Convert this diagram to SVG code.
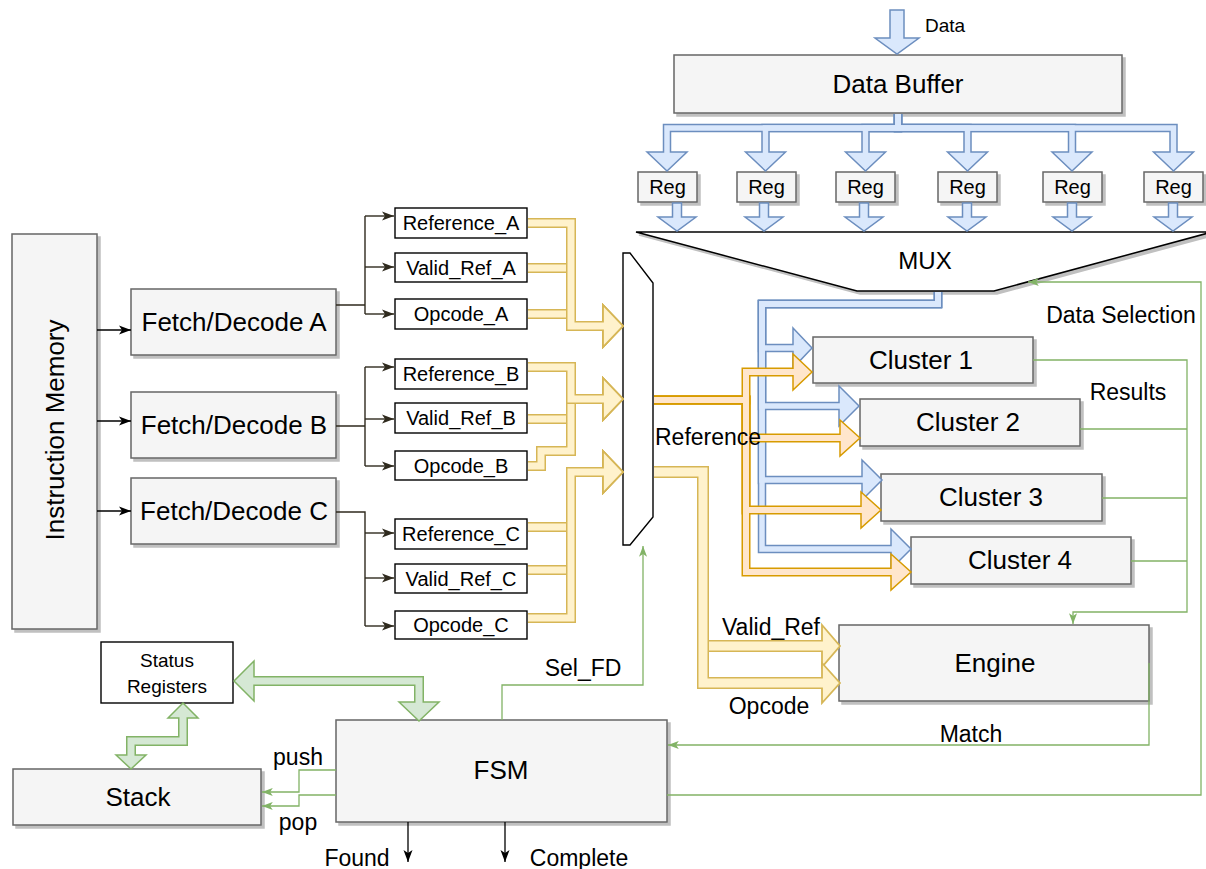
<svg xmlns="http://www.w3.org/2000/svg" width="1206" height="869" viewBox="0 0 1206 869">
<defs>
<style>
text{font-family:"Liberation Sans",Arial,Helvetica,sans-serif;fill:#000;dominant-baseline:central;text-anchor:middle}
.n{font-size:26px}
.s{font-size:20px}
.l{font-size:23px}
.box{fill:#f5f5f5;stroke:#666;stroke-width:1.5}
.wbox{fill:#fff;stroke:#000;stroke-width:1.4}
.ln{fill:none;stroke:#000;stroke-width:1.3}
.dk{fill:none;stroke:#2f2a1e;stroke-width:1.4}
.gl{fill:none;stroke:#82b366;stroke-width:1.3}
.bo{fill:none;stroke:#6c8ebf;stroke-width:8.5;stroke-linejoin:miter}
.bi{fill:none;stroke:#dae8fc;stroke-width:5.5;stroke-linejoin:miter}
.bh{fill:#dae8fc;stroke:#6c8ebf;stroke-width:1.5;stroke-linejoin:miter}
.yo{fill:none;stroke:#d6b656;stroke-width:10;stroke-linejoin:miter}
.yi{fill:none;stroke:#fff2cc;stroke-width:7;stroke-linejoin:miter}
.yh{fill:#fff2cc;stroke:#d6b656;stroke-width:1.8;stroke-linejoin:miter}
.oo{fill:none;stroke:#d79b00;stroke-width:9;stroke-linejoin:miter}
.oi{fill:none;stroke:#ffe6cc;stroke-width:6;stroke-linejoin:miter}
.oh{fill:#ffe6cc;stroke:#d79b00;stroke-width:1.5;stroke-linejoin:miter}
.go{fill:none;stroke:#82b366;stroke-width:10;stroke-linejoin:miter}
.gi{fill:none;stroke:#d5e8d4;stroke-width:7;stroke-linejoin:miter}
.gh{fill:#d5e8d4;stroke:#82b366;stroke-width:1.5;stroke-linejoin:miter}
.wide{stroke-width:12}
.wide-in{stroke-width:9}
</style>
<filter id="ds" x="-10%" y="-10%" width="130%" height="140%">
<feGaussianBlur in="SourceAlpha" stdDeviation="0.6" result="b"/>
<feOffset in="b" dx="3" dy="3" result="o"/>
<feComponentTransfer in="o" result="s"><feFuncA type="linear" slope="0.25"/></feComponentTransfer>
<feMerge><feMergeNode in="s"/><feMergeNode in="SourceGraphic"/></feMerge>
</filter>
<marker id="mk" viewBox="0 0 12 10" refX="12" refY="5" markerWidth="12" markerHeight="10" markerUnits="userSpaceOnUse" orient="auto"><path d="M0,0.5 L12,5 L0,9.5 L3,5 Z" fill="#000"/></marker>
<marker id="mkd" viewBox="0 0 12 10" refX="12" refY="5" markerWidth="12" markerHeight="10" markerUnits="userSpaceOnUse" orient="auto"><path d="M0,0.5 L12,5 L0,9.5 L3,5 Z" fill="#2f2a1e"/></marker>
<marker id="mkg" viewBox="0 0 12 10" refX="12" refY="5" markerWidth="11" markerHeight="9" markerUnits="userSpaceOnUse" orient="auto"><path d="M0,0.5 L12,5 L0,9.5 L3,5 Z" fill="#82b366"/></marker>
<!-- repeated arrow shapes -->
<polygon id="dh" points="-20,152 0,171 20,152"/>
<polygon id="ra" points="-4.5,203 4.5,203 4.5,217 19,217 0,231 -19,217 -4.5,217"/>
<!-- data buffer fan-out -->
<path id="d1" d="M898,114 V128 H667 V154"/>
<path id="d2" d="M898,114 V128 H765.5 V154"/>
<path id="d3" d="M898,114 V128 H865.5 V154"/>
<path id="d4" d="M898,114 V128 H967.5 V154"/>
<path id="d5" d="M898,114 V128 H1072 V154"/>
<path id="d6" d="M898,114 V128 H1173.5 V154"/>
<!-- fetch/decode outputs to selector -->
<path id="yA1" d="M528,314 H571 V326 H605"/>
<path id="yA2" d="M528,268 H571 V326 H605"/>
<path id="yA3" d="M528,223 H571 V326 H605"/>
<path id="yB1" d="M528,419 H571 V399 H605"/>
<path id="yB2" d="M528,466 H541 V451 H571 V399 H605"/>
<path id="yB3" d="M528,367 H571 V399 H605"/>
<path id="yC1" d="M528,527 H571 V472 H605"/>
<path id="yC2" d="M528,570 H571 V472 H605"/>
<path id="yC3" d="M528,618 H571 V472 H605"/>
<!-- selector outputs to engine -->
<path id="yE1" d="M654,472 H703 V646 H824"/>
<path id="yE2" d="M654,472 H703 V683 H824"/>
<!-- data mux to clusters -->
<path id="bc1" d="M938,292 V304 H762 V348 H795"/>
<path id="bc2" d="M938,292 V304 H762 V406 H841"/>
<path id="bc3" d="M938,292 V304 H762 V480 H864"/>
<path id="bc4" d="M938,292 V304 H762 V549 H893"/>
<!-- reference to clusters -->
<path id="oc1" d="M654,400 H746 V372 H795"/>
<path id="oc2" d="M654,400 H746 V438 H842"/>
<path id="oc3" d="M654,400 H746 V510 H863"/>
<path id="oc4" d="M654,400 H746 V572 H893"/>
<!-- status register links -->
<path id="g1" d="M252,681 H419 V704"/>
<path id="g2" d="M183,716 V741 H131 V757"/>
</defs>

<rect width="1206" height="869" fill="#fff"/>

<!-- ===== nodes ===== -->
<g id="instruction-memory">
<rect class="box" x="12" y="234" width="85" height="395" filter="url(#ds)"/>
<text class="n" transform="translate(55,430) rotate(-90)">Instruction Memory</text>
</g>
<g id="fd-a"><rect class="box" x="131" y="289" width="205" height="66" filter="url(#ds)"/><text class="n" x="234" y="322">Fetch/Decode A</text></g>
<g id="fd-b"><rect class="box" x="131" y="392" width="205" height="66" filter="url(#ds)"/><text class="n" x="234" y="425">Fetch/Decode B</text></g>
<g id="fd-c"><rect class="box" x="131" y="478" width="205" height="66" filter="url(#ds)"/><text class="n" x="234" y="511">Fetch/Decode C</text></g>

<g id="ref-a"><rect class="wbox" x="395" y="208" width="132" height="30"/><text class="s" x="461" y="223">Reference_A</text></g>
<g id="valid-a"><rect class="wbox" x="395" y="253" width="132" height="29"/><text class="s" x="461" y="267.5">Valid_Ref_A</text></g>
<g id="opcode-a"><rect class="wbox" x="395" y="299" width="132" height="30"/><text class="s" x="461" y="314">Opcode_A</text></g>
<g id="ref-b"><rect class="wbox" x="395" y="359" width="132" height="30"/><text class="s" x="461" y="374">Reference_B</text></g>
<g id="valid-b"><rect class="wbox" x="395" y="403" width="132" height="30"/><text class="s" x="461" y="418">Valid_Ref_B</text></g>
<g id="opcode-b"><rect class="wbox" x="395" y="451" width="132" height="29"/><text class="s" x="461" y="465.5">Opcode_B</text></g>
<g id="ref-c"><rect class="wbox" x="395" y="519" width="132" height="30"/><text class="s" x="461" y="534">Reference_C</text></g>
<g id="valid-c"><rect class="wbox" x="395" y="564" width="132" height="29"/><text class="s" x="461" y="578.5">Valid_Ref_C</text></g>
<g id="opcode-c"><rect class="wbox" x="395" y="611" width="132" height="28"/><text class="s" x="461" y="625">Opcode_C</text></g>

<g id="fd-select"><polygon points="623,253 630,253 653,283 653,517 630,545 623,545" fill="#fff" stroke="#000" stroke-width="1.4"/></g>

<g id="data-buffer"><rect class="box" x="674" y="55" width="448" height="58" filter="url(#ds)"/><text class="n" x="898" y="84">Data Buffer</text></g>

<g id="regs">
<g id="reg-1"><rect class="box" x="638" y="172" width="59" height="30" filter="url(#ds)"/><text class="s" x="667.5" y="187">Reg</text></g>
<g id="reg-2"><rect class="box" x="737" y="172" width="59" height="30" filter="url(#ds)"/><text class="s" x="766.5" y="187">Reg</text></g>
<g id="reg-3"><rect class="box" x="836" y="172" width="59" height="30" filter="url(#ds)"/><text class="s" x="865.5" y="187">Reg</text></g>
<g id="reg-4"><rect class="box" x="938" y="172" width="59" height="30" filter="url(#ds)"/><text class="s" x="967.5" y="187">Reg</text></g>
<g id="reg-5"><rect class="box" x="1043" y="172" width="59" height="30" filter="url(#ds)"/><text class="s" x="1072.5" y="187">Reg</text></g>
<g id="reg-6"><rect class="box" x="1144" y="172" width="59" height="30" filter="url(#ds)"/><text class="s" x="1173.5" y="187">Reg</text></g>
</g>

<g id="data-mux"><polygon points="636,232 1212,232 994,291 857,291" fill="#fff" stroke="#000" stroke-width="1.5" filter="url(#ds)"/><text x="925" y="260" style="font-size:24px">MUX</text></g>

<g id="cluster-1"><rect class="box" x="813" y="337" width="220" height="46" filter="url(#ds)"/><text class="n" x="921" y="360">Cluster 1</text></g>
<g id="cluster-2"><rect class="box" x="860" y="399" width="220" height="47" filter="url(#ds)"/><text class="n" x="968" y="422">Cluster 2</text></g>
<g id="cluster-3"><rect class="box" x="881" y="474" width="221" height="47" filter="url(#ds)"/><text class="n" x="991" y="497">Cluster 3</text></g>
<g id="cluster-4"><rect class="box" x="911" y="537" width="220" height="47" filter="url(#ds)"/><text class="n" x="1020" y="560">Cluster 4</text></g>

<g id="engine"><rect class="box" x="839" y="625" width="310" height="76" filter="url(#ds)"/><text class="n" x="995" y="663">Engine</text></g>

<g id="status-registers"><rect class="wbox" x="101" y="642" width="132" height="61"/><text x="167" y="660" style="font-size:19px">Status</text><text x="167" y="686" style="font-size:19px">Registers</text></g>
<g id="stack"><rect class="box" x="13" y="769" width="248" height="56" filter="url(#ds)"/><text class="n" x="138" y="797">Stack</text></g>
<g id="fsm"><rect class="box" x="336" y="720" width="331" height="102" filter="url(#ds)"/><text class="n" x="501" y="770">FSM</text></g>

<!-- ===== connectors ===== -->
<g id="connectors">
<!-- instruction memory to fetch/decode units -->
<path class="ln" d="M97,330 H131" marker-end="url(#mk)"/>
<path class="ln" d="M97,421 H131" marker-end="url(#mk)"/>
<path class="ln" d="M97,511 H131" marker-end="url(#mk)"/>

<!-- fetch/decode fan-out -->
<path class="dk" d="M336,305 H365 M365,216 V314"/>
<path class="dk" d="M365,216 H394" marker-end="url(#mkd)"/>
<path class="dk" d="M365,267 H394" marker-end="url(#mkd)"/>
<path class="dk" d="M365,314 H394" marker-end="url(#mkd)"/>
<path class="dk" d="M336,426 H365 M365,367 V466"/>
<path class="dk" d="M365,367 H394" marker-end="url(#mkd)"/>
<path class="dk" d="M365,419 H394" marker-end="url(#mkd)"/>
<path class="dk" d="M365,466 H394" marker-end="url(#mkd)"/>
<path class="dk" d="M336,512 H365 V626"/>
<path class="dk" d="M365,533 H394" marker-end="url(#mkd)"/>
<path class="dk" d="M365,578 H394" marker-end="url(#mkd)"/>
<path class="dk" d="M365,626 H394" marker-end="url(#mkd)"/>

<!-- field buses into the selector -->
<use href="#yA1" class="yo"/><polygon class="yh" points="603,305 623,326 603,347"/><use href="#yA1" class="yi"/>
<use href="#yA2" class="yo"/><polygon class="yh" points="603,305 623,326 603,347"/><use href="#yA2" class="yi"/>
<use href="#yA3" class="yo"/><polygon class="yh" points="603,305 623,326 603,347"/><use href="#yA3" class="yi"/>
<use href="#yB1" class="yo"/><polygon class="yh" points="603,378 623,399 603,420"/><use href="#yB1" class="yi"/>
<use href="#yB2" class="yo"/><polygon class="yh" points="603,378 623,399 603,420"/><use href="#yB2" class="yi"/>
<use href="#yB3" class="yo"/><polygon class="yh" points="603,378 623,399 603,420"/><use href="#yB3" class="yi"/>
<use href="#yC1" class="yo"/><polygon class="yh" points="603,451 623,472 603,493"/><use href="#yC1" class="yi"/>
<use href="#yC2" class="yo"/><polygon class="yh" points="603,451 623,472 603,493"/><use href="#yC2" class="yi"/>
<use href="#yC3" class="yo"/><polygon class="yh" points="603,451 623,472 603,493"/><use href="#yC3" class="yi"/>

<!-- selector to engine -->
<use href="#yE1" class="yo wide"/><polygon class="yh" points="822,625 840,646 822,667"/><use href="#yE1" class="yi wide-in"/>
<use href="#yE2" class="yo wide"/><polygon class="yh" points="822,663 840,683 822,703"/><use href="#yE2" class="yi wide-in"/>

<!-- data input -->
<polygon class="bh" points="890,10 904,10 904,38 919,38 897,54 875,38 890,38"/>

<!-- data buffer to registers -->
<use href="#d1" class="bo"/><use href="#d2" class="bo"/><use href="#d3" class="bo"/><use href="#d4" class="bo"/><use href="#d5" class="bo"/><use href="#d6" class="bo"/>
<use href="#dh" x="667" class="bh"/><use href="#dh" x="765.5" class="bh"/><use href="#dh" x="865.5" class="bh"/><use href="#dh" x="967.5" class="bh"/><use href="#dh" x="1072" class="bh"/><use href="#dh" x="1173.5" class="bh"/>
<use href="#d1" class="bi"/><use href="#d2" class="bi"/><use href="#d3" class="bi"/><use href="#d4" class="bi"/><use href="#d5" class="bi"/><use href="#d6" class="bi"/>

<!-- registers to data mux -->
<use href="#ra" x="677" class="bh"/><use href="#ra" x="764" class="bh"/><use href="#ra" x="864" class="bh"/><use href="#ra" x="967" class="bh"/><use href="#ra" x="1072" class="bh"/><use href="#ra" x="1173" class="bh"/>

<!-- data mux to clusters -->
<use href="#bc1" class="bo"/><use href="#bc2" class="bo"/><use href="#bc3" class="bo"/><use href="#bc4" class="bo"/>
<polygon class="bh" points="793,328 812,348 793,368"/>
<polygon class="bh" points="839,386 859,406 839,426"/>
<polygon class="bh" points="862,460 882,480 862,500"/>
<polygon class="bh" points="891,529 911,549 891,569"/>
<use href="#bc1" class="bi"/><use href="#bc2" class="bi"/><use href="#bc3" class="bi"/><use href="#bc4" class="bi"/>

<!-- reference to clusters -->
<use href="#oc1" class="oo"/><use href="#oc2" class="oo"/><use href="#oc3" class="oo"/><use href="#oc4" class="oo"/>
<polygon class="oh" points="793,354 812,372 793,390"/>
<polygon class="oh" points="840,420 860,438 840,456"/>
<polygon class="oh" points="861,492 881,510 861,528"/>
<polygon class="oh" points="891,554 911,572 891,590"/>
<use href="#oc1" class="oi"/><use href="#oc2" class="oi"/><use href="#oc3" class="oi"/><use href="#oc4" class="oi"/>

<!-- cluster results to engine -->
<path class="gl" d="M1033,360 H1187 V612 H1073 V624" marker-end="url(#mkg)"/>
<path class="gl" d="M1080,429 H1187 M1102,498 H1187 M1131,561 H1187"/>

<!-- data selection from FSM -->
<path class="gl" d="M667,795 H1201 V282 H1028" marker-end="url(#mkg)"/>
<!-- match -->
<path class="gl" d="M1149,663 V745 H668" marker-end="url(#mkg)"/>
<!-- select fetch/decode -->
<path class="gl" d="M502,720 V685 H643 V546" marker-end="url(#mkg)"/>
<!-- push / pop -->
<path class="gl" d="M336,770 H299 V792 H262" marker-end="url(#mkg)"/>
<path class="gl" d="M336,795 H299 V806 H262" marker-end="url(#mkg)"/>

<!-- status register links -->
<use href="#g1" class="go"/>
<polygon class="gh" points="254,661 234,681 254,701"/>
<polygon class="gh" points="399,702 419,721 439,702"/>
<use href="#g1" class="gi"/>
<use href="#g2" class="go"/>
<polygon class="gh" points="168,718 183,703 198,718"/>
<polygon class="gh" points="116,755 131,769 146,755"/>
<use href="#g2" class="gi"/>

<!-- FSM outputs -->
<path class="ln" d="M408,822 V862" marker-end="url(#mk)"/>
<path class="ln" d="M505,822 V862" marker-end="url(#mk)"/>

<!-- connector labels -->
<text x="945" y="25" style="font-size:19px">Data</text>
<text class="l" x="1121" y="315">Data Selection</text>
<text class="l" x="1128" y="392">Results</text>
<text class="l" x="655" y="437" style="text-anchor:start">Reference</text>
<text class="l" x="771" y="627">Valid_Ref</text>
<text class="l" x="769" y="706">Opcode</text>
<text class="l" x="971" y="734">Match</text>
<text class="l" x="583" y="668">Sel_FD</text>
<text class="l" x="298" y="757">push</text>
<text class="l" x="298" y="822">pop</text>
<text class="l" x="357" y="858">Found</text>
<text class="l" x="579" y="858">Complete</text>
</g>
</svg>
